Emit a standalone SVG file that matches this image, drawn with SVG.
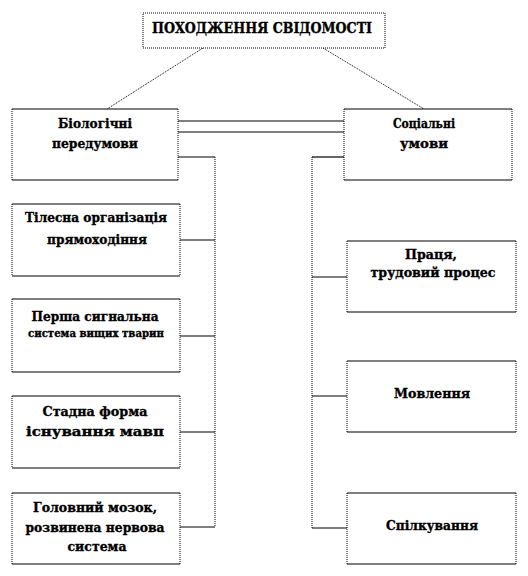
<svg xmlns="http://www.w3.org/2000/svg" width="528" height="576" viewBox="0 0 528 576">
<style>
.solid{stroke:#000;stroke-width:1.2;fill:none}
.dot{stroke:#000;stroke-width:1;stroke-dasharray:1 1;fill:none}
.bg{fill:#fff}
.t{font-size:13px;fill:#000;stroke:#000;stroke-width:0.35;text-anchor:middle}
.title{font-size:14px}
.small{font-size:10.5px}
</style>
<rect width="528" height="576" fill="#fff"/>
<g id="connectors">
<line class="dot" x1="203" y1="48" x2="107" y2="109"/>
<line class="dot" x1="323" y1="48" x2="424" y2="109"/>
<line class="solid" x1="178" y1="121" x2="344" y2="121"/>
<line class="solid" x1="178" y1="132" x2="344" y2="132"/>
<line class="solid" x1="178" y1="157" x2="215" y2="157"/>
<line class="dot" x1="215" y1="157" x2="215" y2="527"/>
<line class="solid" x1="180" y1="240" x2="215" y2="240"/>
<line class="solid" x1="180" y1="336" x2="215" y2="336"/>
<line class="solid" x1="180" y1="432" x2="215" y2="432"/>
<line class="solid" x1="180" y1="527" x2="215" y2="527"/>
<line class="solid" x1="344" y1="157" x2="312" y2="157"/>
<line class="dot" x1="312" y1="157" x2="312" y2="528"/>
<line class="solid" x1="312" y1="277" x2="347" y2="277"/>
<line class="solid" x1="312" y1="396" x2="347" y2="396"/>
<line class="solid" x1="312" y1="528" x2="347" y2="528"/>
</g>
<g font-family="DejaVu Serif, Liberation Serif, serif" font-weight="bold">
<g id="title">
<rect class="bg" x="143" y="13" width="242" height="35"/>
<rect class="dot" x="143" y="13" width="242" height="35"/>
<text class="t title" x="262" y="33" textLength="220" lengthAdjust="spacingAndGlyphs">ПОХОДЖЕННЯ СВІДОМОСТІ</text>
</g>
<g id="bio">
<line class="solid" x1="12" y1="109" x2="178" y2="109"/><line class="solid" x1="12" y1="180" x2="178" y2="180"/>
<line class="dot" x1="12" y1="109" x2="12" y2="180"/><line class="dot" x1="178" y1="109" x2="178" y2="180"/>
<text class="t" x="95" y="128" textLength="74" lengthAdjust="spacingAndGlyphs">Біологічні</text>
<text class="t" x="95" y="148" textLength="86" lengthAdjust="spacingAndGlyphs">передумови</text>
</g>
<g id="soc">
<line class="solid" x1="344" y1="109" x2="512" y2="109"/><line class="solid" x1="344" y1="180" x2="512" y2="180"/>
<line class="dot" x1="344" y1="109" x2="344" y2="180"/><line class="dot" x1="512" y1="109" x2="512" y2="180"/>
<text class="t" x="424" y="128" textLength="62" lengthAdjust="spacingAndGlyphs">Соціальні</text>
<text class="t" x="424" y="148" textLength="48" lengthAdjust="spacingAndGlyphs">умови</text>
</g>
<g id="b1">
<line class="solid" x1="12" y1="204" x2="180" y2="204"/><line class="solid" x1="12" y1="276" x2="180" y2="276"/>
<line class="dot" x1="12" y1="204" x2="12" y2="276"/><line class="dot" x1="180" y1="204" x2="180" y2="276"/>
<text class="t" x="96" y="222" textLength="142" lengthAdjust="spacingAndGlyphs">Тілесна організація</text>
<text class="t" x="97" y="244" textLength="100" lengthAdjust="spacingAndGlyphs">прямоходіння</text>
</g>
<g id="b2">
<line class="solid" x1="12" y1="299" x2="180" y2="299"/><line class="solid" x1="12" y1="372" x2="180" y2="372"/>
<line class="dot" x1="12" y1="299" x2="12" y2="372"/><line class="dot" x1="180" y1="299" x2="180" y2="372"/>
<text class="t" x="95" y="321" textLength="127" lengthAdjust="spacingAndGlyphs">Перша  сигнальна</text>
<text class="t small" x="96" y="337" textLength="136" lengthAdjust="spacingAndGlyphs">система  вищих  тварин</text>
</g>
<g id="b3">
<line class="solid" x1="12" y1="396" x2="180" y2="396"/><line class="solid" x1="12" y1="468" x2="180" y2="468"/>
<line class="dot" x1="12" y1="396" x2="12" y2="468"/><line class="dot" x1="180" y1="396" x2="180" y2="468"/>
<text class="t" x="95" y="416" textLength="105" lengthAdjust="spacingAndGlyphs">Стадна форма</text>
<text class="t" x="95" y="436" textLength="138" lengthAdjust="spacingAndGlyphs">існування мавп</text>
</g>
<g id="b4">
<line class="solid" x1="12" y1="493" x2="180" y2="493"/><line class="solid" x1="12" y1="564" x2="180" y2="564"/>
<line class="dot" x1="12" y1="493" x2="12" y2="564"/><line class="dot" x1="180" y1="493" x2="180" y2="564"/>
<text class="t" x="95" y="512" textLength="124" lengthAdjust="spacingAndGlyphs">Головний мозок,</text>
<text class="t" x="95" y="532" textLength="139" lengthAdjust="spacingAndGlyphs">розвинена нервова</text>
<text class="t" x="97" y="551" textLength="59" lengthAdjust="spacingAndGlyphs">система</text>
</g>
<g id="s1">
<line class="solid" x1="347" y1="241" x2="516" y2="241"/><line class="solid" x1="347" y1="312" x2="516" y2="312"/>
<line class="dot" x1="347" y1="241" x2="347" y2="312"/><line class="dot" x1="516" y1="241" x2="516" y2="312"/>
<text class="t" x="431" y="259" textLength="52" lengthAdjust="spacingAndGlyphs">Праця,</text>
<text class="t" x="433" y="277" textLength="125" lengthAdjust="spacingAndGlyphs">трудовий процес</text>
</g>
<g id="s2">
<line class="solid" x1="347" y1="361" x2="516" y2="361"/><line class="solid" x1="347" y1="432" x2="516" y2="432"/>
<line class="dot" x1="347" y1="361" x2="347" y2="432"/><line class="dot" x1="516" y1="361" x2="516" y2="432"/>
<text class="t" x="432" y="398" textLength="76" lengthAdjust="spacingAndGlyphs">Мовлення</text>
</g>
<g id="s3">
<line class="solid" x1="347" y1="493" x2="516" y2="493"/><line class="solid" x1="347" y1="564" x2="516" y2="564"/>
<line class="dot" x1="347" y1="493" x2="347" y2="564"/><line class="dot" x1="516" y1="493" x2="516" y2="564"/>
<text class="t" x="432" y="530" textLength="92" lengthAdjust="spacingAndGlyphs">Спілкування</text>
</g>
</g>
</svg>
